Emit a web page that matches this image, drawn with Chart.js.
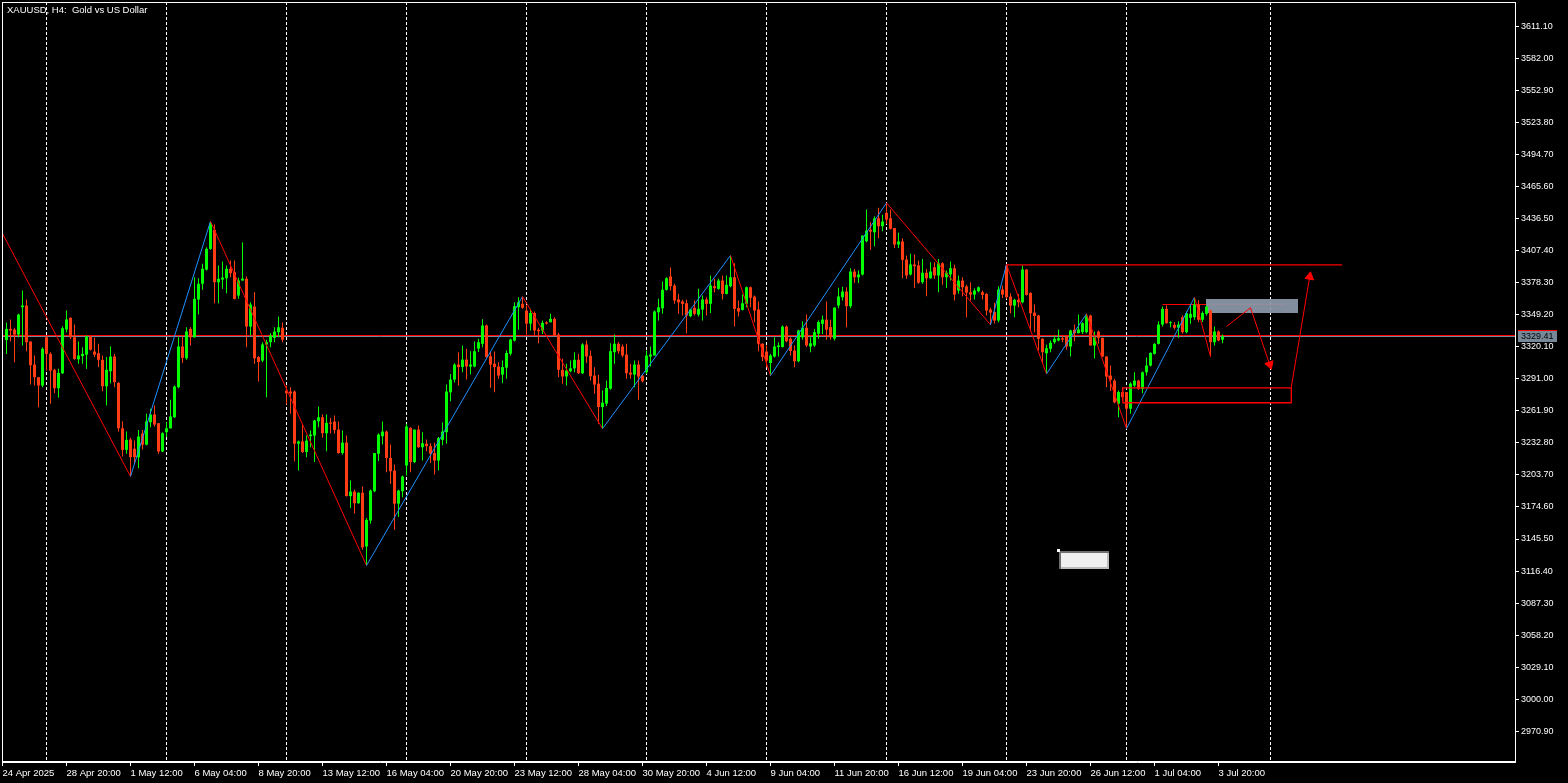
<!DOCTYPE html>
<html><head><meta charset="utf-8">
<script src="https://cdn.jsdelivr.net/npm/chart.js@4.4.1/dist/chart.umd.min.js"></script>
<style>html,body{margin:0;padding:0;background:#000;overflow:hidden}canvas{display:block}</style>
</head><body>
<canvas id="c" width="1568" height="783"></canvas>
<script>
// ---- Data (XAUUSD H4, bar index 0 = 24 Apr 2025 08:00) ----
const opens = [3326.4,3336.4,3335.8,3331.3,3356.1,3357.6,3324.9,3304.0,3292.5,3284.9,
3328.8,3313.7,3299.2,3282.5,3296.1,3335.8,3346.4,3328.8,3308.8,3311.7,
3313.0,3329.4,3315.8,3314.3,3308.3,3284.3,3297.9,3311.3,3287.4,3246.1,
3226.5,3235.9,3227.5,3219.8,3241.2,3231.2,3251.6,3258.6,3250.7,3225.0,
3242.6,3246.1,3256.1,3283.4,3320.4,3309.7,3336.4,3328.8,3363.1,3377.4,
3390.3,3409.1,3426.4,3378.8,3381.2,3382.4,3391.0,3387.9,3366.7,3380.3,
3381.9,3338.5,3356.7,3310.8,3307.6,3322.2,3324.3,3328.3,3333.4,3337.4,
3280.4,3279.5,3279.5,3232.1,3234.1,3224.5,3238.9,3239.5,3252.5,3256.1,
3241.6,3251.3,3252.2,3244.9,3223.6,3233.0,3184.5,3188.6,3178.0,3187.5,
3138.7,3162.3,3188.9,3222.9,3238.9,3243.1,3219.2,3207.7,3177.6,3188.9,
3212.3,3246.5,3215.4,3244.9,3228.9,3232.1,3229.9,3223.6,3216.8,3235.6,
3242.6,3278.8,3290.3,3304.0,3301.7,3308.5,3302.2,3302.2,3318.5,3322.9,
3339.5,3311.5,3304.8,3302.2,3294.9,3301.2,3313.9,3325.8,3356.1,3359.2,
3353.1,3341.2,3350.8,3335.6,3334.9,3342.4,3342.4,3345.5,3331.3,3299.2,
3293.2,3297.9,3300.6,3308.3,3296.1,3322.2,3311.9,3294.0,3286.7,3265.4,
3268.5,3282.1,3315.2,3322.9,3320.4,3313.0,3296.7,3294.9,3304.0,3294.0,
3297.0,3311.3,3312.2,3351.5,3355.2,3371.9,3384.0,3375.8,3363.1,3361.3,
3359.7,3347.9,3355.5,3349.4,3354.0,3363.1,3359.2,3375.2,3372.8,3380.3,
3368.2,3375.2,3383.3,3355.3,3353.7,3359.2,3374.2,3365.8,3354.0,3322.9,
3315.8,3305.4,3311.3,3319.9,3319.9,3338.5,3327.5,3316.7,3307.0,3328.8,
3337.4,3320.4,3321.3,3332.0,3341.0,3344.8,3338.0,3327.6,3357.6,3365.2,
3370.3,3357.0,3388.5,3383.3,3385.8,3416.0,3426.4,3424.2,3436.9,3429.7,
3441.8,3436.9,3428.0,3413.0,3415.8,3399.4,3385.8,3394.9,3394.0,3378.8,
3387.4,3382.4,3392.4,3384.9,3396.0,3383.3,3385.8,3391.5,3371.2,3380.3,
3375.0,3369.7,3367.6,3370.6,3369.7,3368.2,3354.0,3351.7,3344.0,3372.1,
3394.0,3365.8,3357.6,3362.8,3360.6,3390.3,3369.1,3351.2,3348.5,3327.4,
3314.3,3318.3,3324.3,3325.8,3327.9,3329.4,3320.4,3335.6,3332.5,3333.4,
3333.4,3348.5,3321.3,3334.0,3328.3,3311.3,3294.0,3289.4,3268.5,3279.0,
3279.0,3263.9,3284.9,3289.4,3281.9,3297.0,3303.1,3313.7,3322.8,3340.3,
3354.6,3341.6,3340.1,3337.4,3347.0,3333.4,3346.4,3347.0,3358.5,3344.7,
3350.1,3353.1,3324.3,3334.0,3326.6];
const highs = [3341.9,3344.9,3337.4,3350.1,3371.2,3363.1,3324.9,3312.2,3292.5,3319.7,
3330.4,3315.2,3300.1,3300.1,3338.8,3353.1,3347.0,3340.3,3324.9,3319.7,
3330.4,3330.4,3328.4,3323.0,3312.2,3310.8,3320.6,3313.7,3288.0,3252.5,
3243.1,3237.6,3234.9,3244.6,3244.6,3259.3,3263.8,3266.8,3250.7,3242.6,
3251.6,3272.0,3284.9,3328.8,3329.4,3337.9,3337.9,3383.3,3382.4,3395.5,
3410.6,3434.2,3431.2,3393.9,3397.6,3393.9,3398.5,3398.5,3382.8,3415.1,
3384.0,3360.6,3369.7,3311.7,3324.3,3326.6,3332.5,3337.9,3347.6,3342.2,
3284.9,3283.4,3280.4,3234.9,3250.2,3239.5,3244.0,3253.8,3265.9,3258.6,
3258.6,3255.4,3257.7,3252.2,3244.0,3239.5,3198.6,3190.2,3188.0,3193.2,
3164.7,3190.4,3223.6,3241.6,3252.2,3244.0,3231.3,3213.2,3190.2,3203.2,
3250.2,3247.0,3244.9,3248.6,3242.6,3235.9,3232.5,3233.0,3238.1,3251.3,
3285.8,3295.5,3305.1,3315.2,3321.3,3318.3,3316.1,3324.9,3327.4,3345.1,
3340.3,3315.2,3315.8,3306.1,3307.6,3316.7,3327.4,3360.6,3365.2,3365.8,
3357.6,3354.8,3352.2,3337.4,3344.0,3343.4,3350.1,3347.0,3332.8,3309.2,
3304.8,3307.6,3315.2,3313.7,3323.4,3325.8,3316.7,3301.6,3294.8,3280.4,
3289.4,3323.4,3331.3,3324.4,3322.2,3323.0,3304.8,3307.6,3307.6,3294.9,
3316.7,3320.4,3353.1,3363.7,3379.4,3383.3,3392.1,3377.4,3368.2,3362.8,
3362.8,3354.6,3362.2,3372.8,3366.7,3365.2,3384.9,3381.9,3381.9,3384.9,
3384.9,3403.1,3396.0,3362.2,3367.6,3374.9,3374.9,3366.7,3361.3,3323.4,
3321.3,3313.7,3328.8,3324.3,3339.4,3339.4,3328.8,3321.3,3335.6,3343.4,
3349.4,3328.8,3336.4,3344.0,3348.5,3361.3,3344.8,3356.1,3373.7,3374.8,
3374.2,3391.5,3390.9,3389.4,3421.2,3444.8,3433.3,3438.7,3446.4,3440.0,
3450.9,3444.8,3428.0,3423.7,3418.8,3403.0,3404.6,3403.9,3398.5,3400.0,
3390.9,3396.9,3396.9,3400.0,3396.9,3389.4,3397.6,3394.6,3384.9,3383.3,
3376.6,3378.8,3373.3,3374.9,3371.2,3368.8,3355.7,3360.1,3375.2,3375.8,
3394.9,3368.8,3363.7,3368.2,3393.9,3390.9,3369.7,3358.5,3349.2,3328.0,
3322.0,3325.8,3330.4,3335.6,3330.4,3330.4,3335.6,3340.3,3349.4,3342.4,
3350.1,3349.2,3334.0,3334.9,3328.3,3311.3,3303.1,3291.0,3280.4,3283.4,
3279.0,3288.0,3297.0,3290.1,3297.6,3310.3,3315.2,3323.4,3343.3,3356.7,
3357.6,3343.4,3342.4,3343.4,3348.5,3352.2,3358.6,3365.2,3362.4,3352.2,
3357.6,3353.7,3338.5,3334.9,3331.3];
const lows = [3313.7,3325.2,3306.1,3328.8,3321.3,3316.1,3285.8,3284.9,3265.2,3283.4,
3298.5,3268.3,3277.9,3273.9,3295.5,3333.4,3327.3,3308.3,3304.8,3304.8,
3300.1,3316.7,3310.8,3301.7,3279.8,3266.8,3287.0,3283.4,3243.1,3220.4,
3222.9,3202.3,3213.9,3209.9,3226.8,3230.6,3247.0,3247.7,3222.9,3224.5,
3238.1,3245.8,3255.6,3282.5,3305.4,3308.3,3321.3,3328.3,3349.4,3371.9,
3389.4,3408.2,3359.7,3359.7,3372.8,3368.8,3383.3,3363.1,3363.7,3380.3,
3319.7,3330.4,3304.8,3288.6,3306.1,3274.3,3319.7,3324.3,3328.8,3324.3,
3267.6,3259.4,3216.2,3207.7,3223.6,3219.8,3228.9,3215.4,3247.0,3237.6,
3225.2,3241.6,3241.2,3222.9,3222.0,3184.1,3173.6,3168.6,3177.5,3135.7,
3121.4,3159.3,3188.0,3216.3,3231.3,3206.2,3195.8,3153.8,3165.5,3183.4,
3203.2,3206.2,3214.5,3228.5,3216.8,3225.2,3214.5,3204.1,3207.7,3230.6,
3232.1,3270.7,3287.6,3284.9,3297.0,3290.4,3294.9,3301.6,3315.3,3319.7,
3310.3,3282.9,3278.8,3291.2,3287.0,3291.2,3312.2,3324.9,3335.7,3354.7,
3330.4,3334.9,3330.4,3323.4,3331.8,3340.3,3342.4,3329.7,3292.5,3286.5,
3284.9,3297.0,3297.0,3295.5,3295.5,3305.4,3289.4,3277.4,3250.3,3245.8,
3266.3,3281.2,3304.8,3313.9,3310.6,3291.2,3291.2,3283.4,3272.1,3288.0,
3295.5,3302.2,3312.2,3344.0,3350.1,3371.2,3371.2,3359.2,3350.1,3348.5,
3332.5,3347.0,3348.5,3347.6,3344.0,3348.5,3350.8,3369.7,3371.9,3363.1,
3367.6,3374.2,3338.5,3347.6,3353.1,3356.1,3356.1,3342.4,3316.1,3307.0,
3301.6,3294.0,3310.3,3311.3,3319.4,3324.3,3312.2,3301.6,3306.1,3326.6,
3319.9,3315.2,3319.9,3327.5,3331.8,3326.6,3326.6,3325.8,3355.2,3362.2,
3338.0,3355.2,3378.2,3378.2,3384.9,3415.1,3408.2,3411.5,3418.8,3425.1,
3431.8,3426.7,3410.0,3410.0,3382.4,3381.9,3384.9,3373.5,3377.5,3377.5,
3366.1,3381.9,3381.9,3369.7,3376.6,3373.5,3380.3,3362.2,3368.4,3366.1,
3347.0,3362.2,3363.1,3369.7,3363.1,3348.5,3340.1,3341.2,3342.4,3364.4,
3363.7,3350.6,3347.0,3356.1,3359.7,3366.7,3334.9,3333.4,3316.7,3304.8,
3295.5,3315.2,3322.9,3325.2,3324.3,3317.4,3311.3,3325.2,3332.5,3331.8,
3332.5,3321.3,3309.5,3322.9,3310.8,3283.4,3279.9,3268.8,3256.1,3271.3,
3245.8,3259.4,3283.4,3281.2,3277.9,3294.0,3302.2,3313.1,3322.2,3338.5,
3341.0,3338.0,3335.8,3328.3,3331.9,3332.5,3341.1,3344.7,3342.6,3342.6,
3348.5,3311.3,3321.3,3325.2,3323.4];
const closes = [3336.4,3334.9,3331.3,3349.4,3357.6,3324.3,3303.4,3292.5,3284.9,3318.3,
3313.7,3298.5,3282.5,3296.4,3337.0,3344.9,3328.8,3309.2,3312.2,3313.7,
3329.4,3317.4,3313.0,3308.3,3284.3,3299.2,3311.3,3288.0,3246.1,3226.5,
3235.6,3219.8,3219.8,3238.6,3231.2,3252.2,3258.6,3249.5,3225.0,3241.6,
3246.1,3256.8,3284.0,3320.4,3310.1,3334.0,3328.8,3363.7,3377.4,3391.0,
3409.1,3432.4,3378.8,3381.9,3383.0,3391.0,3387.0,3363.7,3380.3,3382.1,
3338.5,3358.5,3309.7,3306.3,3322.2,3324.3,3330.4,3334.0,3337.9,3326.6,
3277.9,3277.7,3232.1,3234.1,3224.5,3234.9,3240.4,3253.1,3256.1,3241.6,
3251.0,3250.2,3244.6,3223.6,3233.0,3184.5,3188.6,3178.0,3187.5,3138.0,
3162.9,3189.5,3223.6,3240.4,3243.1,3219.1,3207.1,3177.6,3189.5,3202.3,
3247.7,3215.4,3244.9,3228.9,3232.5,3229.9,3223.0,3216.8,3237.1,3243.1,
3279.5,3290.3,3304.0,3301.7,3308.5,3302.2,3304.0,3316.1,3324.3,3339.5,
3310.8,3304.0,3301.7,3294.0,3301.7,3314.5,3326.7,3357.0,3360.6,3355.5,
3341.2,3350.8,3334.9,3334.3,3341.9,3341.2,3345.5,3330.4,3299.2,3293.2,
3298.5,3300.6,3308.3,3296.1,3322.2,3311.3,3293.4,3285.8,3265.4,3269.4,
3282.7,3316.1,3322.9,3316.1,3312.2,3296.1,3294.9,3304.0,3293.1,3288.8,
3312.2,3313.1,3352.2,3356.0,3371.9,3382.4,3375.2,3362.2,3360.6,3359.1,
3348.5,3354.0,3350.1,3354.6,3363.1,3359.2,3375.8,3373.4,3380.3,3368.2,
3376.4,3383.3,3354.6,3352.2,3359.7,3374.2,3364.6,3353.1,3322.9,3310.8,
3307.6,3312.2,3320.4,3321.3,3338.5,3325.2,3316.3,3307.0,3334.9,3337.4,
3321.3,3323.4,3333.4,3342.6,3344.8,3335.7,3328.8,3355.7,3365.8,3370.3,
3357.0,3388.5,3383.3,3385.8,3421.2,3425.7,3424.8,3436.9,3429.7,3433.9,
3435.7,3427.3,3413.0,3415.8,3399.1,3384.9,3394.9,3393.3,3378.4,3387.4,
3382.4,3388.5,3384.9,3396.0,3383.3,3387.4,3391.5,3367.6,3380.3,3374.2,
3369.3,3367.6,3371.2,3374.2,3367.3,3353.1,3351.2,3344.0,3372.1,3367.6,
3365.2,3357.6,3362.8,3360.6,3390.3,3367.3,3350.6,3348.1,3327.4,3315.2,
3318.9,3323.8,3327.4,3327.9,3326.6,3320.4,3334.9,3332.5,3335.8,3341.6,
3347.6,3321.3,3328.8,3328.3,3311.3,3293.1,3290.1,3269.7,3279.0,3274.5,
3263.9,3286.7,3289.4,3281.9,3297.0,3303.1,3314.6,3322.8,3340.3,3354.6,
3341.6,3342.4,3337.4,3340.3,3333.4,3350.6,3350.1,3358.5,3344.7,3350.8,
3356.7,3324.3,3334.0,3325.8,3329.4];

const timeTickBars = [-1,15,31,47,63,79,95,111,127,143,159,175,191,207,223,239,255,271,287,303];
const timeTickLabels = ["24 Apr 2025","28 Apr 20:00","1 May 12:00","6 May 04:00","8 May 20:00","13 May 12:00",
"16 May 04:00","20 May 20:00","23 May 12:00","28 May 04:00","30 May 20:00","4 Jun 12:00","9 Jun 04:00",
"11 Jun 20:00","16 Jun 12:00","19 Jun 04:00","23 Jun 20:00","26 Jun 12:00","1 Jul 04:00","3 Jul 20:00"];
const priceTicks = [2970.9,3000.0,3029.1,3058.2,3087.3,3116.4,3145.5,3174.6,3203.7,3232.8,3261.9,3291.0,
3320.1,3349.2,3378.3,3407.4,3436.5,3465.6,3494.7,3523.8,3552.9,3582.0,3611.1];
const weekLineBars = [10,40,70,100,130,160,190,220,250,280,316];

const zigzagBars   = [-1,31,51,90,129,149,181,191,220,246,250,260,270,280,297,301];
const zigzagPrices = [3423.0,3202.3,3434.2,3121.4,3365.8,3245.8,3403.1,3294.0,3450.9,3340.1,3394.9,3295.5,3350.1,3245.8,3365.2,3311.3];

const bidPrice = 3329.41;
const askPrice = 3330.3;
const resistanceBars = [250, 333.9];   const resistancePrice = 3394.6;
const levelBars = [289, 319.75];       const levelPrice = 3358.5;
const grayZoneBars = [299.9, 322.9];   const grayZonePrices = [3363.7, 3350.6];
const supportBoxBars = [279.1, 321.2]; const supportBoxPrices = [3282.9, 3269.3];
const arrow1Bars = [305, 311, 315.8];  const arrow1Prices = [3338.6, 3355.6, 3304.0];
const arrow2Bars = [321.2, 325.8];     const arrow2Prices = [3283.4, 3383.8];

// ---- Styles ----
const UP = '#00ff00', DOWN = '#ff3c14', ZZ_UP = '#1e90ff', ZZ_DN = '#ff0000';
const FONT = "'Liberation Sans', Arial, sans-serif";
Chart.defaults.font.family = FONT;

const idx = opens.map((_, i) => i);
const colors = idx.map(i => closes[i] >= opens[i] ? UP : DOWN);
const pts = (bs, ps) => bs.map((b, i) => ({x: b, y: ps[i]}));
const noPad = s => { s.paddingLeft = 0; s.paddingRight = 0; s.paddingTop = 0; s.paddingBottom = 0; };

const bgPlugin = {
  id: 'bg',
  beforeDatasetsDraw(chart) {
    const {ctx, chartArea: a, scales: {x, y}} = chart;
    ctx.save();
    ctx.beginPath(); ctx.rect(a.left, a.top, a.right - a.left, a.bottom - a.top); ctx.clip();
    ctx.lineWidth = 1;
    ctx.strokeStyle = '#ffffff'; ctx.setLineDash([3, 2]);
    weekLineBars.forEach(b => {
      const px = Math.round(x.getPixelForValue(b) - 0.5) + 0.5;
      ctx.beginPath(); ctx.moveTo(px, a.top); ctx.lineTo(px, a.bottom); ctx.stroke();
    });
    ctx.setLineDash([]);
    const hline = (p, c, x0, x1) => {
      const py = Math.round(y.getPixelForValue(p) - 0.5) + 0.5;
      ctx.strokeStyle = c; ctx.beginPath(); ctx.moveTo(x0, py); ctx.lineTo(x1, py); ctx.stroke();
    };
    hline(askPrice, '#ff0000', a.left, a.right);
    hline(bidPrice, '#778899', a.left, a.right);
    hline(levelPrice, '#ff0000', x.getPixelForValue(levelBars[0]), x.getPixelForValue(levelBars[1]));
    const gx0 = x.getPixelForValue(grayZoneBars[0]), gx1 = x.getPixelForValue(grayZoneBars[1]);
    const gy0 = y.getPixelForValue(grayZonePrices[0]), gy1 = y.getPixelForValue(grayZonePrices[1]);
    ctx.fillStyle = 'rgba(140,152,170,0.93)';
    ctx.fillRect(Math.round(gx0), Math.round(gy0), Math.round(gx1 - gx0), Math.round(gy1 - gy0));
    ctx.restore();
  }
};

const overlayPlugin = {
  id: 'overlay',
  afterDraw(chart) {
    const {ctx, chartArea: a, scales: {y}} = chart;
    ctx.save();
    ctx.strokeStyle = '#ffffff'; ctx.lineWidth = 1;
    ctx.strokeRect(a.left + 0.5, a.top + 0.5, a.right - a.left, a.bottom - a.top - 1);
    // title
    ctx.fillStyle = '#ffffff'; ctx.font = '9.5px ' + FONT; ctx.textBaseline = 'alphabetic';
    ctx.fillText('XAUUSD, H4:  Gold vs US Dollar', 7, 13);
    // small panel widget
    ctx.fillStyle = '#6e6e6e'; ctx.fillRect(1059, 551, 50, 18);
    ctx.fillStyle = '#bdbdbd'; ctx.fillRect(1061, 553, 48, 16);
    ctx.fillStyle = '#efefef'; ctx.fillRect(1061, 553, 46, 14);
    ctx.fillStyle = '#ffffff'; ctx.fillRect(1057, 549, 3, 3);
    // bid label on price axis
    const py = Math.round(y.getPixelForValue(bidPrice));
    ctx.fillStyle = '#778899'; ctx.fillRect(a.right + 3, py - 6, 39, 11);
    ctx.fillStyle = '#ff0000'; ctx.fillRect(a.right + 3, py - 7, 39, 1);
    ctx.fillStyle = '#000000'; ctx.font = '9px ' + FONT; ctx.textBaseline = 'middle';
    ctx.fillText(bidPrice.toFixed(2), a.right + 6, py);
    ctx.restore();
  }
};

new Chart(document.getElementById('c'), {
  type: 'bar',
  data: {
    datasets: [
      { type: 'bar', data: idx.map(i => ({x: i, y: [lows[i], highs[i]]})), backgroundColor: colors,
        barThickness: 1, grouped: false, inflateAmount: 0, borderWidth: 0, order: 5 },
      { type: 'bar', data: idx.map(i => ({x: i, y: [opens[i], closes[i]]})), backgroundColor: colors,
        barThickness: 3, grouped: false, inflateAmount: 0, borderWidth: 0, minBarLength: 1, order: 4 },
      { type: 'line', data: pts(zigzagBars, zigzagPrices), borderWidth: 1, pointRadius: 0,
        segment: { borderColor: c => c.p1.parsed.y > c.p0.parsed.y ? ZZ_UP : ZZ_DN }, order: 3 },
      { type: 'line', data: pts(resistanceBars, [resistancePrice, resistancePrice]), borderColor: '#ff0000',
        borderWidth: 1.3, pointRadius: 0, order: 2 },
      { type: 'line', data: pts([supportBoxBars[0], supportBoxBars[1], supportBoxBars[1], supportBoxBars[0], supportBoxBars[0]],
          [supportBoxPrices[0], supportBoxPrices[0], supportBoxPrices[1], supportBoxPrices[1], supportBoxPrices[0]]),
        borderColor: '#ff0000', borderWidth: 1.3, pointRadius: 0, order: 2 },
      { type: 'line', data: pts(arrow1Bars, arrow1Prices), borderColor: '#ff0000', borderWidth: 1,
        pointRadius: [0, 0, 5], pointStyle: 'triangle', rotation: [0, 0, 161], pointBackgroundColor: '#ff0000',
        pointBorderColor: '#ff0000', order: 1 },
      { type: 'line', data: pts(arrow2Bars, arrow2Prices), borderColor: '#ff0000', borderWidth: 1,
        pointRadius: [0, 5], pointStyle: 'triangle', rotation: [0, 9.5], pointBackgroundColor: '#ff0000',
        pointBorderColor: '#ff0000', order: 1 }
    ]
  },
  options: {
    responsive: false, animation: false, devicePixelRatio: 1, events: [],
    layout: { autoPadding: false, padding: { left: 2, top: 2, right: 0, bottom: 0 } },
    plugins: { legend: { display: false }, tooltip: { enabled: false } },
    scales: {
      x: {
        type: 'linear', min: -1.125, max: 377.125, offset: false,
        afterBuildTicks: s => { s.ticks = timeTickBars.map(v => ({value: v})); },
        afterFit: s => { s.height = 21; noPad(s); },
        ticks: { autoSkip: false, maxRotation: 0, align: 'start', color: '#ffffff', padding: 2,
          font: { size: 9.5, family: FONT }, callback: (v, i) => timeTickLabels[i] },
        grid: { display: true, drawOnChartArea: false, drawTicks: true, tickLength: 4, tickColor: '#ffffff', offset: false },
        border: { display: true, color: '#ffffff' }
      },
      y: {
        type: 'linear', position: 'right', min: 2942.9, max: 3633.4,
        afterBuildTicks: s => { s.ticks = priceTicks.map(v => ({value: v})); },
        afterFit: s => { s.width = 53; noPad(s); },
        ticks: { autoSkip: false, color: '#ffffff', padding: 2, font: { size: 9, family: FONT },
          callback: v => Number(v).toFixed(2) },
        grid: { display: true, drawOnChartArea: false, drawTicks: true, tickLength: 4, tickColor: '#ffffff' },
        border: { display: true, color: '#ffffff' }
      }
    }
  },
  plugins: [bgPlugin, overlayPlugin]
});
</script>
</body></html>
